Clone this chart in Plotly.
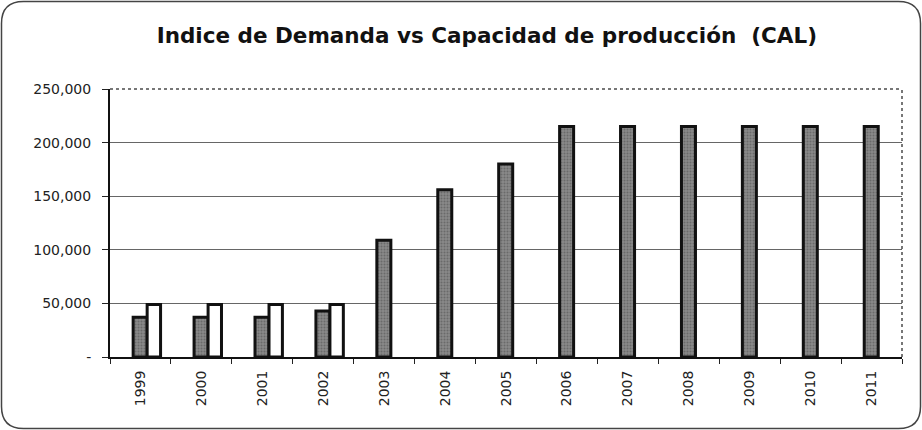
import plotly.graph_objects as go

years = ["1999", "2000", "2001", "2002", "2003", "2004", "2005", "2006",
         "2007", "2008", "2009", "2010", "2011"]
demanda = [37000, 37000, 37000, 43000, 109000, 156000, 180000, 215000,
           215000, 215000, 215000, 215000, 215000]
capacidad = [49000, 49000, 49000, 49000, None, None, None, None,
             None, None, None, None, None]
ytick_vals = [0, 50000, 100000, 150000, 200000, 250000]
ytick_text = ["-", "50,000", "100,000", "150,000", "200,000", "250,000"]
title_text = "Indice de Demanda vs Capacidad de producción  (CAL)"

W, H = 922, 430
ML, MR, MT, MB = 110, 20, 89, 73
PW, PH = W - ML - MR, H - MT - MB


def px(x):
    return (x - ML) / PW


def py(y):
    return (H - MB - y) / PH


# rounded outer frame (pixel coords -> paper coords)
x0, x1, y0, y1, r = 1.5, 920.5, 1.5, 428.5, 22
frame_path = (
    f"M {px(x0 + r)},{py(y0)} L {px(x1 - r)},{py(y0)} "
    f"Q {px(x1)},{py(y0)} {px(x1)},{py(y0 + r)} "
    f"L {px(x1)},{py(y1 - r)} Q {px(x1)},{py(y1)} {px(x1 - r)},{py(y1)} "
    f"L {px(x0 + r)},{py(y1)} Q {px(x0)},{py(y1)} {px(x0)},{py(y1 - r)} "
    f"L {px(x0)},{py(y0 + r)} Q {px(x0)},{py(y0)} {px(x0 + r)},{py(y0)} Z"
)

fig = go.Figure()
fig.add_trace(go.Bar(
    x=years, y=demanda, name="Demanda",
    width=0.23, offset=-0.12,
    marker=dict(color="#7a7a7a",
                pattern=dict(shape=".", fgcolor="#4a4a4a", bgcolor="#8a8a8a",
                             size=3, solidity=0.4),
                line=dict(color="#111111", width=3)),
))
fig.add_trace(go.Bar(
    x=years, y=capacidad, name="Capacidad",
    width=0.22, offset=0.11,
    marker=dict(color="#ffffff", line=dict(color="#111111", width=3)),
))

fig.update_layout(
    width=W, height=H,
    barmode="overlay",
    showlegend=False,
    paper_bgcolor="white", plot_bgcolor="white",
    margin=dict(l=ML, r=MR, t=MT, b=MB),
    title=dict(text=title_text, x=0.528, xanchor="center", y=0.918, yanchor="middle",
               font=dict(family="DejaVu Sans", size=21.5, color="#111111", weight="bold")),
    font=dict(family="DejaVu Sans", size=14, color="#222222"),
    xaxis=dict(type="category", tickangle=-90, ticks="outside", tickson="boundaries",
               ticklen=5, tickcolor="#222", showline=True, linecolor="#111", linewidth=2,
               showgrid=False, ticklabelstandoff=6, tickfont=dict(size=14, color="#222")),
    yaxis=dict(range=[0, 250000], tickvals=ytick_vals, ticktext=ytick_text,
               ticks="outside", ticklen=6, tickcolor="#222", showline=True,
               linecolor="#111", linewidth=2, showgrid=True, gridcolor="#666666",
               gridwidth=1, zeroline=False, ticklabelstandoff=8,
               tickfont=dict(size=14, color="#222")),
    shapes=[
        dict(type="line", xref="x domain", yref="y domain", x0=0, x1=1, y0=1, y1=1,
             line=dict(color="#777777", width=2, dash="dot")),
        dict(type="line", xref="x domain", yref="y domain", x0=1, x1=1, y0=0, y1=1,
             line=dict(color="#777777", width=2, dash="dot")),
        dict(type="path", xref="paper", yref="paper", path=frame_path,
             line=dict(color="#444444", width=1.5), layer="below"),
    ],
)
fig.write_html("out.html")
